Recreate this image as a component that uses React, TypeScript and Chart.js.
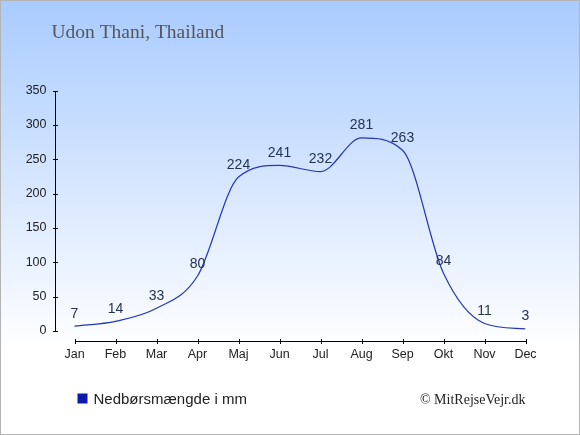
import { useEffect, useRef } from "react";
import { Chart, registerables } from "chart.js";

Chart.register(...registerables);

const months = ["Jan", "Feb", "Mar", "Apr", "Maj", "Jun", "Jul", "Aug", "Sep", "Okt", "Nov", "Dec"];
const rainfall = [7, 14, 33, 80, 224, 241, 232, 281, 263, 84, 11, 3];
const yTicks = [0, 50, 100, 150, 200, 250, 300, 350];
const chartTitle = "Udon Thani, Thailand";
const legendLabel = "Nedbørsmængde i mm";
const credit = "© MitRejseVejr.dk";

const SANS = '"Liberation Sans", Arial, sans-serif';
const SERIF = '"Liberation Serif", "Times New Roman", serif';

export default function App() {
  const ref = useRef<HTMLCanvasElement>(null);

  useEffect(() => {
    document.body.style.margin = "0";
    const canvas = ref.current!;

    const decor = {
      id: "decor",
      beforeDraw(chart: any) {
        const { ctx, width, height } = chart;
        ctx.save();
        const g = ctx.createLinearGradient(0, 0, 0, height);
        g.addColorStop(0, "#a9cbff");
        g.addColorStop(0.8, "#ffffff");
        g.addColorStop(1, "#ffffff");
        ctx.fillStyle = g;
        ctx.fillRect(0, 0, width, height);
        ctx.strokeStyle = "#b4b4b4";
        ctx.lineWidth = 2;
        ctx.strokeRect(0, 0, width, height);

        ctx.fillStyle = "#555555";
        ctx.font = `19.5px ${SERIF}`;
        ctx.textAlign = "left";
        ctx.textBaseline = "alphabetic";
        ctx.fillText(chartTitle, 51.5, 38);
        ctx.restore();
      },
      afterDraw(chart: any) {
        const { ctx } = chart;
        const xs = chart.scales.x;
        const ys = chart.scales.y;
        ctx.save();
        ctx.strokeStyle = "#000000";
        ctx.lineWidth = 1;
        // y axis
        const yAxisX = Math.round(chart.chartArea.left) + 0.5;
        const yTop = ys.getPixelForValue(yTicks[yTicks.length - 1]);
        const yBot = ys.getPixelForValue(yTicks[0]);
        ctx.beginPath();
        ctx.moveTo(yAxisX, Math.round(yTop));
        ctx.lineTo(yAxisX, Math.round(yBot) + 1);
        for (const t of ys.ticks) {
          const py = Math.round(ys.getPixelForValue(t.value)) + 0.5;
          ctx.moveTo(yAxisX - 2.5, py);
          ctx.lineTo(yAxisX + 2.5, py);
        }
        // x axis
        const xAxisY = Math.round(chart.chartArea.bottom) + 0.5;
        const xL = xs.getPixelForValue(0);
        const xR = xs.getPixelForValue(months.length - 1);
        ctx.moveTo(Math.round(xL), xAxisY);
        ctx.lineTo(Math.round(xR) + 1, xAxisY);
        for (const t of xs.ticks) {
          const px = Math.round(xs.getPixelForValue(t.value)) + 0.5;
          ctx.moveTo(px, xAxisY - 2.5);
          ctx.lineTo(px, xAxisY + 2.5);
        }
        ctx.stroke();

        // data labels
        const meta = chart.getDatasetMeta(0);
        ctx.fillStyle = "#223355";
        ctx.font = `14px ${SANS}`;
        ctx.textAlign = "center";
        ctx.textBaseline = "alphabetic";
        meta.data.forEach((pt: any, i: number) => {
          ctx.fillText(String(rainfall[i]), pt.x, pt.y - 8.5);
        });

        // legend
        ctx.fillStyle = "#0b1aa8";
        ctx.fillRect(77.5, 393.5, 10, 10);
        ctx.fillStyle = "#222222";
        ctx.font = `15px ${SANS}`;
        ctx.textAlign = "left";
        ctx.fillText(legendLabel, 93.5, 403.5);

        // credit
        ctx.fillStyle = "#222222";
        ctx.font = `14px ${SERIF}`;
        ctx.textAlign = "right";
        ctx.fillText(credit, 525.5, 404);
        ctx.restore();
      },
    };

    const yMax = yTicks[yTicks.length - 1];
    const yStep = yTicks[1] - yTicks[0];

    const chart = new Chart(canvas, {
      type: "line",
      data: {
        datasets: [
          {
            label: legendLabel,
            data: rainfall.map((v, i) => ({ x: i, y: v })),
            borderColor: "#2536b8",
            borderWidth: 1.2,
            pointRadius: 0,
            fill: false,
            cubicInterpolationMode: "monotone",
          },
        ],
      },
      options: {
        responsive: false,
        animation: false,
        devicePixelRatio: 1,
        layout: { padding: { left: 14.5, right: 54.5, top: 90.5, bottom: 64 } },
        plugins: { legend: { display: false }, title: { display: false }, tooltip: { enabled: false } },
        scales: {
          x: {
            type: "linear",
            min: -0.488,
            max: months.length - 1,
            grid: { display: false, drawTicks: false },
            border: { display: false },
            afterFit: (s: any) => {
              s.height = 30;
            },
            ticks: {
              stepSize: 1,
              includeBounds: false,
              autoSkip: false,
              maxRotation: 0,
              padding: 6,
              color: "#222222",
              font: { family: SANS, size: 12.5 },
              callback: (v: any) => months[v] ?? "",
            },
          },
          y: {
            type: "linear",
            min: -14.55,
            max: yMax,
            grid: { display: false, drawTicks: false },
            border: { display: false },
            afterFit: (s: any) => {
              s.width = 40;
            },
            ticks: {
              stepSize: yStep,
              includeBounds: false,
              padding: 8,
              color: "#222222",
              font: { family: SANS, size: 12.5 },
              callback: (v: any) => (v >= 0 ? String(v) : ""),
            },
          },
        },
      },
      plugins: [decor],
    } as any);

    return () => chart.destroy();
  }, []);

  return (
    <div style={{ position: "relative", width: 580, height: 435 }}>
      <canvas ref={ref} width={580} height={435} style={{ display: "block", width: 580, height: 435 }} />
    </div>
  );
}
